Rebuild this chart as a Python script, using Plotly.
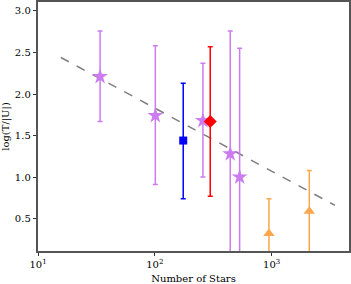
import plotly.graph_objects as go

# star points (violet)
star_n = [34, 101, 258, 442, 532]
star_y = [2.21, 1.74, 1.68, 1.28, 1.00]
star_hi = [2.76, 2.58, 2.37, 2.76, 2.55]
star_lo = [1.67, 0.91, 1.00, -0.5, -0.5]

# blue square
sq_n = [175]
sq_y = [1.44]
sq_hi = [2.13]
sq_lo = [0.74]

# red diamond
dm_n = [298]
dm_y = [1.67]
dm_hi = [2.57]
dm_lo = [0.77]

# orange triangles
tr_n = [948, 2100]
tr_y = [0.32, 0.59]
tr_hi = [0.74, 1.08]
tr_lo = [-0.5, -0.5]

# fit line endpoints
fit_n = [15.7, 3480]
fit_y = [2.44, 0.66]

xtick_vals = [10, 100, 1000]
xtick_text = ["10<sup>1</sup>", "10<sup>2</sup>", "10<sup>3</sup>"]
ytick_vals = [0.5, 1.0, 1.5, 2.0, 2.5, 3.0]
ytick_text = ["0.5", "1.0", "1.5", "2.0", "2.5", "3.0"]

fig = go.Figure()
fig.add_trace(go.Scatter(x=fit_n, y=fit_y, mode="lines",
                         line=dict(color="#7f7f7f", width=1.5, dash="dash"),
                         showlegend=False))


def add_pts(xs, ys, hi, lo, color, symbol, size):
    fig.add_trace(go.Scatter(
        x=xs, y=ys, mode="markers",
        marker=dict(color=color, symbol=symbol, size=size, line=dict(width=0)),
        error_y=dict(type="data", symmetric=False,
                     array=[h - y for h, y in zip(hi, ys)],
                     arrayminus=[y - l for l, y in zip(lo, ys)],
                     color=color, thickness=1.5, width=2.5),
        showlegend=False, cliponaxis=True))


add_pts(star_n, star_y, star_hi, star_lo, "#cc7cf0", "star", 12)
add_pts(sq_n, sq_y, sq_hi, sq_lo, "#0000ff", "square", 8)
add_pts(dm_n, dm_y, dm_hi, dm_lo, "#ff0000", "diamond", 10)
add_pts(tr_n, tr_y, tr_hi, tr_lo, "#ffa64d", "triangle-up", 10)

axis_common = dict(showline=True, mirror=True, linecolor="#555555", linewidth=1.5,
                   ticks="outside", ticklen=3.5, tickwidth=1, tickcolor="#333333",
                   showgrid=False, zeroline=False, automargin=False,
                   tickfont=dict(family="DejaVu Serif", size=10, color="black"))

fig.update_layout(
    width=351, height=284,
    margin=dict(l=38, r=2, t=2, b=33),
    paper_bgcolor="white", plot_bgcolor="white",
    font=dict(family="DejaVu Serif", size=10, color="black"),
    xaxis=dict(type="log", range=[1, 3.662], tickvals=xtick_vals, ticktext=xtick_text,
               title=dict(text="Number of Stars",
                          font=dict(family="DejaVu Serif", size=10)),
               **axis_common),
    yaxis=dict(range=[0.11, 3.108], tickvals=ytick_vals, ticktext=ytick_text,
               title=dict(text="log(T/|U|)",
                          font=dict(family="DejaVu Serif", size=10)),
               **axis_common),
)

fig.write_html("out.html", config={"displayModeBar": False},
               post_script="document.body.style.margin='0';document.body.style.overflow='hidden';")
